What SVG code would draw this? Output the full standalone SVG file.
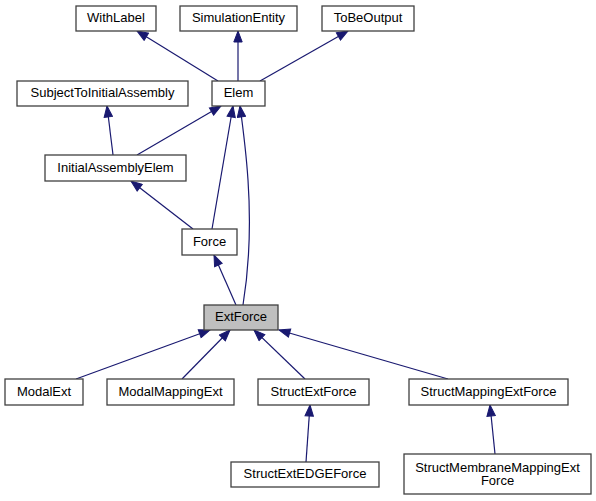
<svg xmlns="http://www.w3.org/2000/svg" width="596" height="501" viewBox="0 0 596 501">
<style>
.n rect{fill:#fff;stroke:#404040;stroke-width:1.3}
.n text{font-family:"Liberation Sans",Arial,sans-serif;font-size:13px;fill:#000;text-anchor:middle}
#edges path{fill:none;stroke:#191970;stroke-width:1.2;marker-end:url(#ah)}
</style>
<defs>
<marker id="ah" markerUnits="userSpaceOnUse" markerWidth="13" markerHeight="10" refX="12" refY="5" orient="auto">
<path d="M1,0.8 L12,5 L1,9.2 z" fill="#191970" stroke="#191970"/>
</marker>
</defs>
<rect width="596" height="501" fill="#fff"/>
<g id="edges">
<path d="M218,81 L137,31"/>
<path d="M238,81 L238,31"/>
<path d="M260,81 L348,31"/>
<path d="M113,155 L107,106"/>
<path d="M137,155 L221,106"/>
<path d="M193,229 L131,181"/>
<path d="M212,229 L233,106"/>
<path d="M243,305 C249,268 251,225 248,180 C246,150 243,128 240,106"/>
<path d="M236,305 L214,255"/>
<path d="M76,379 L210,330"/>
<path d="M182,379 L230,330"/>
<path d="M305,379 L254,330"/>
<path d="M448,379 L279,330"/>
<path d="M306,462 L310,405"/>
<path d="M495,454 L490,405"/>
</g>
<g id="WithLabel" class="n"><rect x="76" y="6" width="80" height="25"/><text x="116" y="22">WithLabel</text></g>
<g id="SimulationEntity" class="n"><rect x="180" y="6" width="117" height="25"/><text x="238.5" y="22">SimulationEntity</text></g>
<g id="ToBeOutput" class="n"><rect x="322" y="6" width="92" height="25"/><text x="368" y="22">ToBeOutput</text></g>
<g id="SubjectToInitialAssembly" class="n"><rect x="17" y="81" width="171" height="25"/><text x="102.5" y="97">SubjectToInitialAssembly</text></g>
<g id="Elem" class="n"><rect x="212" y="81" width="53" height="25"/><text x="238.5" y="97">Elem</text></g>
<g id="InitialAssemblyElem" class="n"><rect x="45" y="155" width="141" height="26"/><text x="115.5" y="171.5">InitialAssemblyElem</text></g>
<g id="Force" class="n"><rect x="182" y="229" width="55" height="26"/><text x="209.5" y="245.5">Force</text></g>
<g id="ExtForce" class="n"><rect x="204" y="305" width="74" height="25" style="fill:#bfbfbf"/><text x="241" y="321">ExtForce</text></g>
<g id="ModalExt" class="n"><rect x="5" y="379" width="78" height="26"/><text x="44" y="395.5">ModalExt</text></g>
<g id="ModalMappingExt" class="n"><rect x="107" y="379" width="127" height="26"/><text x="170.5" y="395.5">ModalMappingExt</text></g>
<g id="StructExtForce" class="n"><rect x="258" y="379" width="111" height="26"/><text x="313.5" y="395.5">StructExtForce</text></g>
<g id="StructMappingExtForce" class="n"><rect x="409" y="379" width="159" height="26"/><text x="488.5" y="395.5">StructMappingExtForce</text></g>
<g id="StructExtEDGEForce" class="n"><rect x="231" y="462" width="148" height="25"/><text x="305" y="478">StructExtEDGEForce</text></g>
<g id="StructMembraneMappingExtForce" class="n"><rect x="404" y="454" width="187" height="40"/><text x="497.5" y="471.5">StructMembraneMappingExt</text><text x="497.5" y="485">Force</text></g>
</svg>
